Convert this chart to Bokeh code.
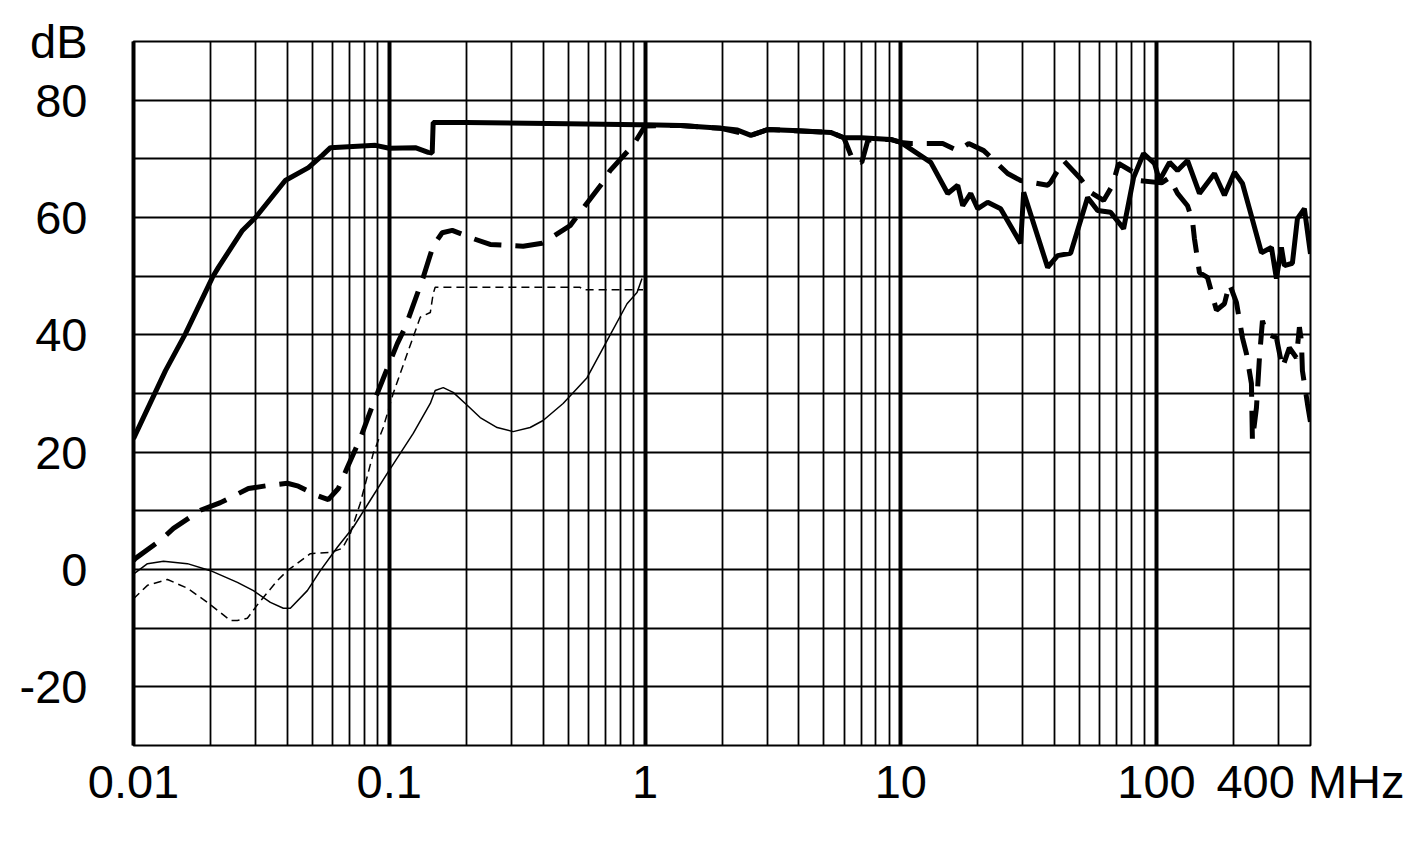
from bokeh.plotting import figure
from bokeh.models import FixedTicker, Range1d, Grid
from bokeh.embed import file_html
from bokeh.resources import INLINE

# ---- data (frequency in MHz, attenuation in dB) ----
thick_solid_f = [0.01, 0.01334, 0.01597, 0.02036, 0.02148, 0.02666, 0.030, 0.0392, 0.0483, 0.0547,
                 0.0589, 0.0883, 0.1, 0.1264, 0.142, 0.1472, 0.1485, 0.2, 0.5, 0.95,
                 1.0, 1.38, 1.98, 2.3, 2.594, 3.02, 4.0, 5.32, 5.99, 7.0,
                 9.13, 10.0, 13.1, 15.26, 16.7, 17.47, 18.77, 20.0, 21.87, 24.58,
                 29.43, 30.23, 37.52, 41.04, 46.14, 53.77, 58.82, 66.12, 74.34, 81.35,
                 88.97, 96.5, 98.2, 102.7, 112.4, 120.8, 132.2, 147.2, 168.5, 184.3,
                 201.7, 216.8, 230.8, 257.2, 281.4, 294.3, 307.8, 316.2, 339.8, 355.5,
                 378.6, 400.0]
thick_solid_db = [22.3, 33.9, 40.2, 49.8, 51.5, 57.8, 60.0, 66.3, 68.5, 70.6,
                  71.9, 72.3, 71.8, 71.9, 71.1, 71.0, 76.2, 76.2, 76.0, 75.8,
                  75.8, 75.7, 75.2, 74.9, 74.0, 75.0, 74.8, 74.5, 73.6, 73.6,
                  73.3, 72.8, 69.4, 64.1, 65.5, 62.0, 64.1, 61.5, 62.6, 61.5,
                  55.6, 64.3, 51.5, 53.5, 53.9, 63.4, 61.2, 60.9, 58.1, 66.8,
                  70.9, 69.5, 69.2, 66.3, 69.4, 68.0, 69.7, 64.1, 67.5, 63.8,
                  67.7, 65.8, 61.5, 54.0, 54.9, 49.6, 54.9, 51.8, 52.2, 59.8,
                  61.5, 53.8]

thick_dash_f = [0.01, 0.01018, 0.01275, 0.01433, 0.01827, 0.02187, 0.02814, 0.03338, 0.03995, 0.04411,
                0.05234, 0.05777, 0.06322, 0.06855, 0.07703, 0.0866, 0.09647, 0.1075, 0.1155, 0.1358,
                0.1485, 0.1611, 0.1763, 0.213, 0.248, 0.3051, 0.3338, 0.396, 0.5093, 0.5573,
                0.6795, 0.73, 0.8982, 1.0, 1.38, 1.98, 2.594, 3.02, 5.32, 5.99,
                6.55, 7.04, 7.44, 9.13, 10.0, 10.94, 13.1, 14.59, 16.7, 18.43,
                21.1, 26.18, 29.43, 37.52, 38.54, 43.31, 50.48, 55.24, 62.09, 67.31,
                71.06, 81.35, 84.3, 104.6, 112.4, 120.8, 132.2, 138.2, 140.7, 147.2,
                158.2, 171.5, 184.3, 192.8, 205.4, 216.8, 224.7, 235.0, 237.1, 245.9,
                252.6, 259.5, 269.0, 294.3, 310.6, 330.7, 352.3, 362.0, 368.6, 371.9,
                389.0, 400.0]
thick_dash_db = [1.5, 1.9, 5.0, 7.0, 10.1, 11.4, 13.8, 14.3, 14.7, 14.2,
                 12.6, 11.9, 13.8, 17.4, 22.3, 28.3, 33.4, 38.5, 41.3, 49.8,
                 55.2, 57.4, 57.8, 56.4, 55.4, 55.2, 55.1, 55.6, 58.6, 60.9,
                 65.8, 68.0, 72.3, 75.6, 75.7, 75.2, 74.0, 75.0, 74.5, 73.6,
                 69.4, 69.4, 73.2, 73.3, 72.8, 72.6, 72.6, 72.6, 71.4, 72.6,
                 71.4, 67.5, 66.3, 65.5, 66.0, 69.7, 66.6, 64.3, 62.9, 65.5,
                 69.2, 67.7, 66.3, 65.9, 66.8, 64.1, 62.0, 59.5, 56.4, 50.6,
                 49.8, 44.2, 45.3, 48.7, 45.5, 39.5, 36.8, 31.7, 22.0, 27.6,
                 36.1, 42.4, 40.2, 39.5, 34.4, 37.8, 36.1, 41.3, 39.0, 33.9,
                 28.3, 25.1]

thin_dash_f = [0.01, 0.01134, 0.01358, 0.01625, 0.01946, 0.02393, 0.02548, 0.02788, 0.03078, 0.03652,
               0.03995, 0.04914, 0.05882, 0.06553, 0.07042, 0.07703, 0.0866, 0.09476, 0.1036, 0.1176,
               0.1322, 0.1447, 0.1485, 0.1512, 0.5573, 0.5726, 0.9822]
thin_dash_db = [-5.0, -2.7, -1.7, -3.2, -5.6, -8.7, -8.7, -8.3, -5.8, -1.9,
                -0.2, 2.7, 2.9, 3.6, 6.1, 11.3, 19.8, 24.2, 30.0, 36.8,
                43.0, 43.8, 47.0, 48.1, 48.1, 47.7, 47.7]

thin_solid_f = [0.01, 0.01134, 0.0131, 0.01625, 0.02, 0.02548, 0.02943, 0.03429, 0.03854, 0.04104,
                0.04783, 0.05377, 0.06266, 0.07234, 0.0843, 0.09822, 0.1104, 0.1241, 0.1447, 0.1512,
                0.1626, 0.1778, 0.2017, 0.2267, 0.2642, 0.3051, 0.3555, 0.3995, 0.4783, 0.5935,
                0.7107, 0.8506, 0.9307, 0.9734]
thin_solid_db = [-0.8, 1.0, 1.4, 1.0, -0.2, -2.2, -3.6, -5.6, -6.6, -6.6,
                 -3.6, -0.2, 3.8, 7.2, 11.8, 16.4, 19.8, 23.2, 28.3, 30.5,
                 31.0, 30.2, 28.0, 25.9, 24.2, 23.5, 24.2, 25.4, 28.3, 32.7,
                 39.0, 45.3, 47.2, 49.6]

x_tick_values = [0.01, 0.1, 1, 10, 100, 400]
x_tick_labels = ["0.01", "0.1", "1", "10", "100", "400 MHz"]
y_tick_values = [-20, 0, 20, 40, 60, 80, 90]
y_tick_labels = ["-20", "0", "20", "40", "60", "80", "dB"]

# grid positions (axis structure)
minor_x = [m * d for d in [0.01, 0.1, 1, 10] for m in range(2, 10)] + [200, 300]
decade_x = [0.1, 1, 10, 100]
grid_y = list(range(-30, 91, 10))

FONT = "Liberation Sans"

p = figure(x_axis_type="log", output_backend="svg", toolbar_location=None,
           frame_width=1177, frame_height=704,
           min_border_left=133, min_border_top=41, min_border_right=99, min_border_bottom=83,
           x_range=Range1d(0.01, 400), y_range=Range1d(-30, 90))
p.background_fill_color = "white"
p.border_fill_color = "white"
p.outline_line_color = "black"
p.outline_line_width = 2

# grids
p.xgrid.ticker = FixedTicker(ticks=minor_x)
p.xgrid.grid_line_color = "black"
p.xgrid.grid_line_width = 1.8
p.ygrid.ticker = FixedTicker(ticks=grid_y)
p.ygrid.grid_line_color = "black"
p.ygrid.grid_line_width = 1.8
p.add_layout(Grid(dimension=0, ticker=FixedTicker(ticks=decade_x),
                  grid_line_color="black", grid_line_width=4))

# axes
p.xaxis.ticker = FixedTicker(ticks=x_tick_values)
p.xaxis.major_label_overrides = dict(zip(x_tick_values, x_tick_labels))
p.yaxis.ticker = FixedTicker(ticks=y_tick_values)
p.yaxis.major_label_overrides = dict(zip(y_tick_values, y_tick_labels))
for ax in (p.xaxis, p.yaxis):
    ax.major_tick_line_color = None
    ax.minor_tick_line_color = None
    ax.major_tick_out = 0
    ax.major_tick_in = 0
    ax.major_label_text_font = FONT
    ax.major_label_text_font_size = "47px"
    ax.major_label_text_color = "black"
p.xaxis.axis_line_color = None
p.xaxis.major_label_standoff = 9
p.yaxis.axis_line_color = "black"
p.yaxis.axis_line_width = 4
p.yaxis.major_label_standoff = 46

# curves
p.line(thin_solid_f, thin_solid_db, line_color="black", line_width=1.5)
p.line(thin_dash_f, thin_dash_db, line_color="black", line_width=1.5, line_dash="8 5")
p.line(thick_dash_f, thick_dash_db, line_color="black", line_width=5, line_dash="28 14")
p.line(thick_solid_f, thick_solid_db, line_color="black", line_width=5)

open("out.html", "w").write(file_html(p, INLINE))
